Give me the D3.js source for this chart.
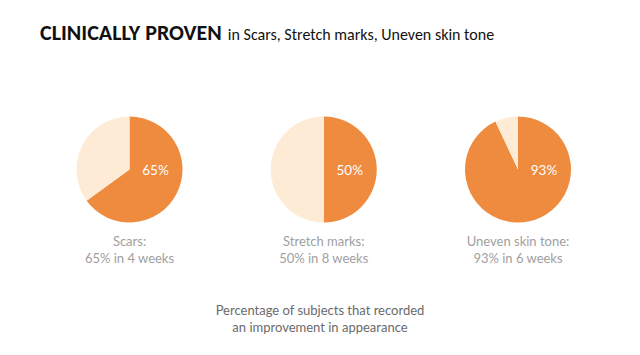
<!DOCTYPE html>
<html><head><meta charset="utf-8">
<script src="https://cdn.jsdelivr.net/npm/d3@7"></script>
<style>body{margin:0;background:#fff}svg{display:block}</style>
</head><body><svg id="c" width="640" height="355"></svg>
<script>
const categories = ["Scars", "Stretch marks", "Uneven skin tone"];
const values = [65, 50, 93];
const weeks = [4, 8, 6];
const titleBold = "CLINICALLY PROVEN";
const titleRest = "in Scars, Stretch marks, Uneven skin tone";
const footnote = ["Percentage of subjects that recorded", "an improvement in appearance"];

const svg = d3.select("#c");
const orange = "#EE8B3E", light = "#FDEBD6";
const x = d3.scalePoint().domain(categories).range([129.5, 518]).padding(0);
const cy = 169.5, r = 53;
const pie = d3.pie().sort(null).value(d => d);
const arc = d3.arc().innerRadius(0).outerRadius(r);
const ff = "Lato, 'Open Sans', sans-serif";

const t = svg.append("text").attr("x", 40).attr("y", 40)
  .attr("font-family", "Carlito, Lato, 'Open Sans', sans-serif").attr("fill", "#111");
t.append("tspan").attr("font-size", 22).attr("font-weight", "bold").text(titleBold);
t.append("tspan").attr("font-size", 16).attr("dx", 6).text(titleRest);

categories.forEach((c, i) => {
  const g = svg.append("g").attr("transform", `translate(${x(c)},${cy})`);
  g.selectAll("path").data(pie([values[i], 100 - values[i]])).join("path")
    .attr("d", arc).attr("fill", (d, j) => j === 0 ? orange : light);
  g.append("text").attr("x", 26).attr("y", 5).attr("text-anchor", "middle")
    .attr("font-family", ff).attr("font-size", 13.5)
    .attr("fill", "#fff").text(values[i] + "%");
  g.append("text").attr("y", 76).attr("text-anchor", "middle")
    .attr("font-family", ff).attr("font-size", 13)
    .attr("fill", "#a0a0a0").text(c + ":");
  g.append("text").attr("y", 93).attr("text-anchor", "middle")
    .attr("font-family", ff).attr("font-size", 13)
    .attr("fill", "#a0a0a0").text(`${values[i]}% in ${weeks[i]} weeks`);
});

footnote.forEach((s, i) => {
  svg.append("text").attr("x", 320).attr("y", 315 + i * 17).attr("text-anchor", "middle")
    .attr("font-family", ff).attr("font-size", 13)
    .attr("fill", "#6a6a6a").text(s);
});
</script></body></html>
